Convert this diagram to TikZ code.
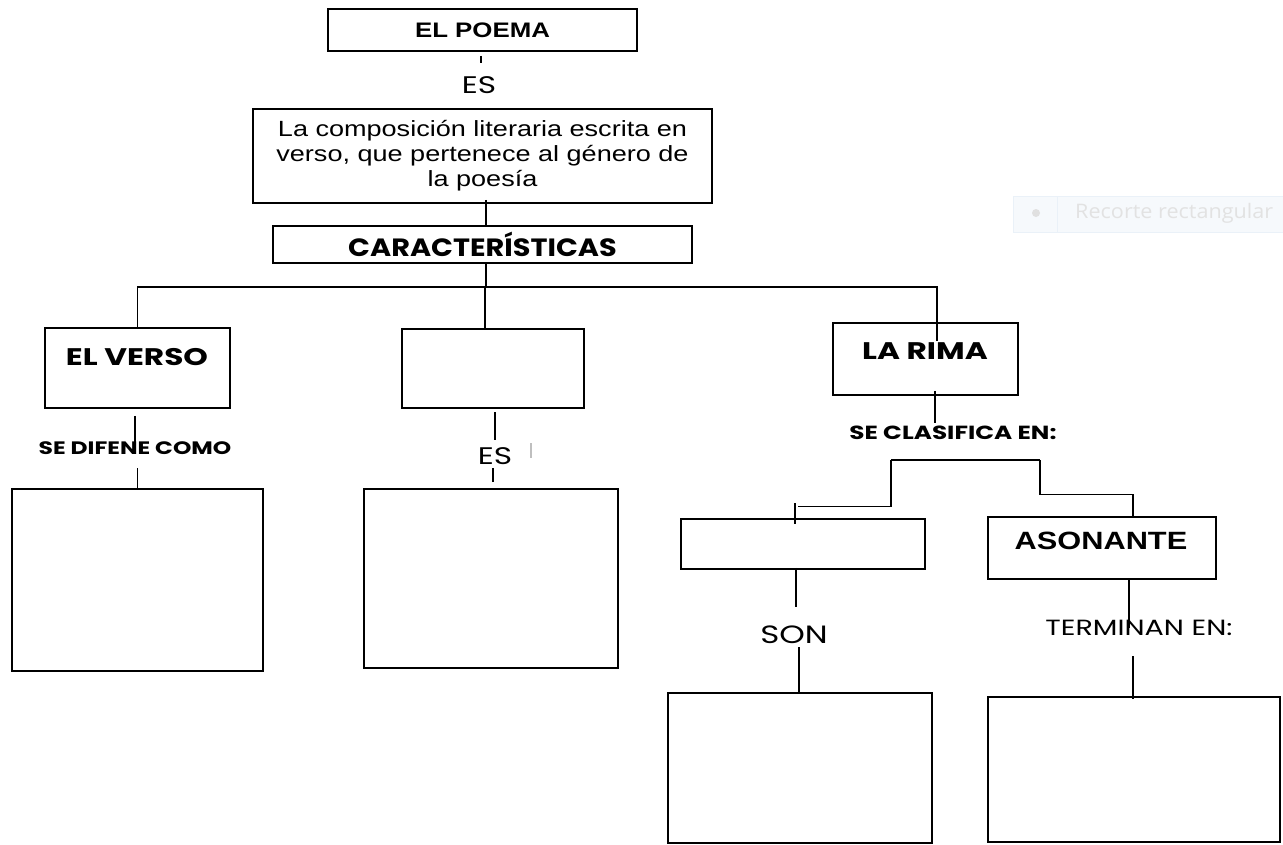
\documentclass[tikz,border=0pt]{standalone}
\usepackage{fontspec}
\setmainfont{Liberation Sans}[FakeStretch=1.23]
\newfontfamily\gothic{Poppins}[FakeStretch=1.3]
\newfontfamily\gothicc{Poppins}[FakeStretch=1.15]
\newfontfamily\uifont{Open Sans}[FakeStretch=1.08]
\definecolor{veloazul}{HTML}{F6F9FC}
\definecolor{veloborde}{HTML}{EAF1F8}
\definecolor{velotexto}{HTML}{E2E2E2}
\tikzset{caja/.style={draw, line width=1.6pt, inner sep=0pt, align=center},
         enlace/.style={line width=1.3pt},
         titulo/.style={font=\gothic\bfseries\fontsize{24}{24}\selectfont},
         nexo/.style={font=\gothic\fontsize{24}{24}\selectfont},
         nexob/.style={font=\gothic\bfseries\fontsize{18}{18}\selectfont}
         }
\begin{document}
\begin{tikzpicture}[x=1pt,y=-1pt]
\useasboundingbox (0,0) rectangle (1283,844);
\node[caja, minimum width=309pt, minimum height=42pt, font=\bfseries\fontsize{21}{21}\selectfont] (poema) at (482.5,30) {EL POEMA};
\node[nexo] (es1) at (479,85) {ES};
\node[caja, minimum width=459pt, minimum height=94pt, font=\fontsize{22}{25}\selectfont] (def) at (482.5,156)
  {La composición literaria escrita en\\verso, que pertenece al género de\\la poesía};
\node[caja, minimum width=419pt, minimum height=37pt, font=\gothicc\bfseries\fontsize{25}{25}\selectfont] (carac) at (482.5,244.5) {CARACTERÍSTICAS};
\node[caja, minimum width=185pt, minimum height=80pt] (verso) at (137.5,368) {};
\node[titulo] (versot) at (137,357) {EL VERSO};
\node[caja, minimum width=182pt, minimum height=79pt] (medio) at (493,368.5) {};
\node[caja, minimum width=185pt, minimum height=72pt] (rima) at (925.5,359) {};
\node[titulo] (rimat) at (925,351) {LA RIMA};
\node[nexob] (define) at (135,448) {SE DIFENE COMO};
\node[nexo] (es2) at (495,456) {ES};
\node[nexob, font=\gothic\bfseries\fontsize{19}{19}\selectfont] (clasifica) at (953,433) {SE CLASIFICA EN:};
\node[caja, minimum width=251pt, minimum height=182pt] (versodef) at (137.5,580) {};
\node[caja, minimum width=254pt, minimum height=179pt] (mediodef) at (491,578.5) {};
\node[caja, minimum width=244pt, minimum height=50pt] (consonante) at (803,544) {};
\node[caja, minimum width=228pt, minimum height=62pt] (asonante) at (1102,548) {};
\node[font=\bfseries\fontsize{25}{25}\selectfont] (asonantet) at (1101,541) {ASONANTE};
\node[nexo, font=\gothic\fontsize{25}{25}\selectfont] (son) at (794,635) {SON};
\node[nexo, font=\gothic\fontsize{22}{22}\selectfont] (terminan) at (1139,628) {TERMINAN EN:};
\node[caja, minimum width=264pt, minimum height=150pt] (sondef) at (800,768) {};
\node[caja, minimum width=292pt, minimum height=145pt] (termdef) at (1134,769.5) {};
\coordinate (reparto) at (486,287);
\coordinate (ramal) at (891,460);
\coordinate (ramar) at (1040,460);
\coordinate (trazo) at (965.5,460);
\draw[enlace] ([xshift=-1.5pt,yshift=-4pt]poema.south) -- ++(0,7);
\draw[enlace] ([xshift=3.5pt,yshift=4pt]def.south) -- ([xshift=3.5pt]carac.north);
\draw[enlace] ([xshift=3.5pt]carac.south) -- (reparto);
\draw[enlace] (verso.north) |- (reparto) -| ([xshift=11.5pt,yshift=-19pt]rima.north);
\draw[enlace] ([xshift=-8pt]medio.north) -- ++(0,-42);
\draw[enlace] ([xshift=-2.5pt,yshift=-7pt]verso.south) -- ++(0,28);
\draw[enlace] (versodef.north) -- ++(0,-20);
\draw[enlace] ([xshift=2pt,yshift=-3.5pt]medio.south) -- ++(0,28);
\draw[enlace] ([xshift=2pt,yshift=6pt]mediodef.north) -- ++(0,-14);
\draw[enlace, black!25] ([xshift=36pt,yshift=13pt]es2.center) -- ++(0,15);
\draw[enlace] ([xshift=9.5pt,yshift=5pt]rima.south) -- ++(0,32);
\draw[enlace] (ramal) -- (ramar);
\draw[line width=2.8pt] ([xshift=-18.5pt]trazo) -- ([xshift=18.5pt]trazo);
\draw[enlace] (ramal) |- ([xshift=-5pt,yshift=12pt]consonante.north);
\draw[enlace] ([xshift=-8pt,yshift=15pt]consonante.north) -- ++(0,21);
\draw[enlace] (ramar) |- ([xshift=31pt,yshift=22pt]asonante.north) -- ([xshift=31pt]asonante.north);
\draw[enlace] ([xshift=-7pt,yshift=2pt]consonante.south) -- ++(0,39);
\draw[enlace] ([xshift=-1pt]sondef.north) -- ++(0,-45);
\draw[enlace] ([xshift=27pt]asonante.south) -- ++(0,48);
\draw[enlace] ([xshift=-1pt,yshift=-3pt]termdef.north) -- ++(0,-43);
\begin{scope}
\clip (0,0) rectangle (1283,844);
\fill[veloazul, draw=veloborde] (1013,196) rectangle (1290,232);
\draw[veloborde] (1057,196) -- (1057,232);
\fill[black!12] (1036,213) circle (4);
\node[anchor=west, inner sep=0pt, text=velotexto, font=\uifont\fontsize{20}{20}\selectfont] (recorte) at (1075,213) {Recorte rectangular};
\end{scope}
\end{tikzpicture}
\end{document}
